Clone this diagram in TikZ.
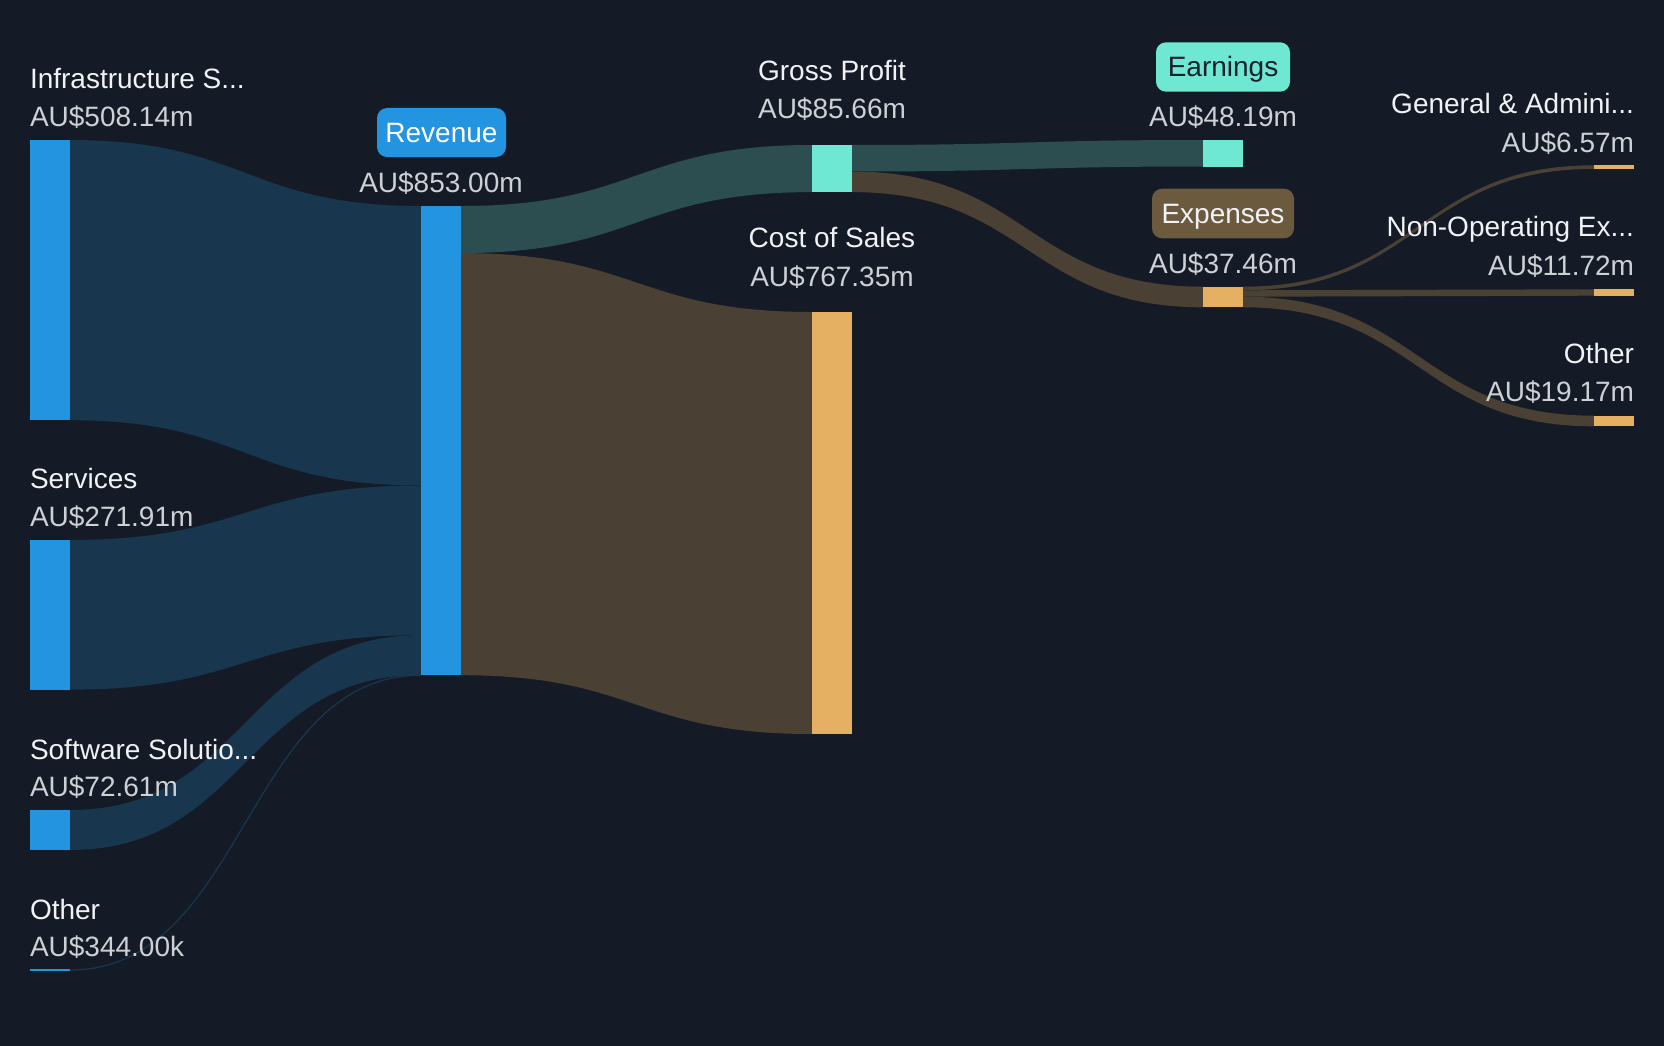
\documentclass[tikz,border=0pt]{standalone}
\usepackage{fontspec}
\setmainfont{Liberation Sans}
\definecolor{bg}{HTML}{151B26}
\definecolor{barblue}{HTML}{2394DF}
\definecolor{bandblue}{HTML}{18374F}
\definecolor{tealbar}{HTML}{6EE8D3}
\definecolor{bandteal}{HTML}{2D4E51}
\definecolor{gold}{HTML}{E5B062}
\definecolor{bandbrown}{HTML}{4A4033}
\definecolor{expbox}{HTML}{6C5A3F}
\definecolor{labelc}{HTML}{F0F2F5}
\definecolor{valc}{HTML}{CDD0D5}
\definecolor{darktext}{HTML}{18202C}
\newcommand\fsz{\fontsize{28}{32}\selectfont}
% x1, top1, bottom1, x2, top2, bottom2, colour
\newcommand\sband[7]{\fill[#7] (#1,#2) .. controls ({(#1+#4)/2},#2) and ({(#1+#4)/2},#5) .. (#4,#5) -- (#4,#6) .. controls ({(#1+#4)/2},#6) and ({(#1+#4)/2},#3) .. (#1,#3) -- cycle;}
\begin{document}
\begin{tikzpicture}[x=1pt,y=-1pt,
  every node/.style={inner sep=0pt,outer sep=0pt},
  bar/.style={fill=#1,draw=none,minimum width=40pt,anchor=north west,rectangle},
  lbl/.style={font=\fsz,text=labelc},
  val/.style={font=\fsz,text=valc},
  tagbox/.style={fill=#1,rounded corners=10pt,font=\fsz,text height=20pt,text depth=0pt,align=center}]
\fill[bg] (0,0) rectangle (1664,1046);
\useasboundingbox (0,0) rectangle (1664,1046);

% bands
\sband{70}{140}{420.2}{421}{206}{485.5}{bandblue}
\sband{70}{540}{689.6}{421}{485.5}{635.1}{bandblue}
\sband{70}{810}{849.9}{421}{635.1}{675}{bandblue}
\sband{461}{206}{253.1}{812}{145}{192.1}{bandteal}
\sband{461}{253.1}{675.2}{812}{312}{734}{bandbrown}
\sband{852}{145}{171.5}{1203}{140}{166.5}{bandteal}
\sband{852}{171.5}{192.1}{1203}{286.7}{307.3}{bandbrown}
\sband{1243}{286.7}{290.3}{1594}{165.3}{168.9}{bandbrown}
\sband{1243}{290.3}{296.7}{1594}{289.3}{295.7}{bandbrown}
\sband{1243}{296.7}{307.3}{1594}{415.7}{426.3}{bandbrown}

% bars
\node[bar=barblue,minimum height=280.2pt] (infra) at (30,140) {};
\node[bar=barblue,minimum height=149.6pt] (serv) at (30,540) {};
\node[bar=barblue,minimum height=39.9pt] (soft) at (30,810) {};
\node[bar=barblue,minimum height=2pt] (othl) at (30,969) {};
\node[bar=barblue,minimum height=469.2pt] (rev) at (421,206) {};
\node[bar=tealbar,minimum height=47.1pt] (gp) at (812,145) {};
\node[bar=gold,minimum height=422pt] (cos) at (812,312) {};
\node[bar=tealbar,minimum height=26.5pt] (earn) at (1203,140) {};
\node[bar=gold,minimum height=20.6pt] (exp) at (1203,286.7) {};
\node[bar=gold,minimum height=3.6pt] (ga) at (1594,165.3) {};
\node[bar=gold,minimum height=6.4pt] (nonop) at (1594,289.3) {};
\node[bar=gold,minimum height=10.6pt] (othr) at (1594,415.7) {};

% thin link from left Other to Revenue
\draw[bandblue,line width=1.2pt] (othl.east) .. controls (245.5,970) and (245.5,675.1) .. (rev.south west);

% left labels
\node[lbl,anchor=base west] (infraL) at (30,88.5) {Infrastructure S...};
\node[val,anchor=base west] (infraV) at (30,126.7) {AU\$508.14m};
\node[lbl,anchor=base west] (servL) at (30,488.6) {Services};
\node[val,anchor=base west] (servV) at (30,526.8) {AU\$271.91m};
\node[lbl,anchor=base west] (softL) at (30,759) {Software Solutio...};
\node[val,anchor=base west] (softV) at (30,796.8) {AU\$72.61m};
\node[lbl,anchor=base west] (othLL) at (30,919) {Other};
\node[val,anchor=base west] (othLV) at (30,956) {AU\$344.00k};

% revenue
\node[tagbox=barblue,text=white,minimum width=129pt,minimum height=49pt] (revbox) at (441.5,132.5) {Revenue};
\node[val,anchor=base] (revV) at (441,192.3) {AU\$853.00m};

% middle
\node[lbl,anchor=base] (gpL) at (832,81) {Gross Profit};
\node[val,anchor=base] (gpV) at (832,118.5) {AU\$85.66m};
\node[lbl,anchor=base] (cosL) at (832,247.3) {Cost of Sales};
\node[val,anchor=base] (cosV) at (832,286) {AU\$767.35m};

% earnings / expenses
\node[tagbox=tealbar,text=darktext,minimum width=134pt,minimum height=49.4pt] (earnbox) at (1223,67) {Earnings};
\node[val,anchor=base] (earnV) at (1223,126.7) {AU\$48.19m};
\node[tagbox=expbox,text=labelc,minimum width=142pt,minimum height=49.6pt] (expbox) at (1223,213.5) {Expenses};
\node[val,anchor=base] (expV) at (1223,273.3) {AU\$37.46m};

% right labels
\node[lbl,anchor=base east] (gaL) at (1634,113.3) {General \& Admini...};
\node[val,anchor=base east] (gaV) at (1634,152.7) {AU\$6.57m};
\node[lbl,anchor=base east] (noL) at (1634,236.7) {Non-Operating Ex...};
\node[val,anchor=base east] (noV) at (1634,275) {AU\$11.72m};
\node[lbl,anchor=base east] (orL) at (1634,363.3) {Other};
\node[val,anchor=base east] (orV) at (1634,401) {AU\$19.17m};
\end{tikzpicture}
\end{document}
